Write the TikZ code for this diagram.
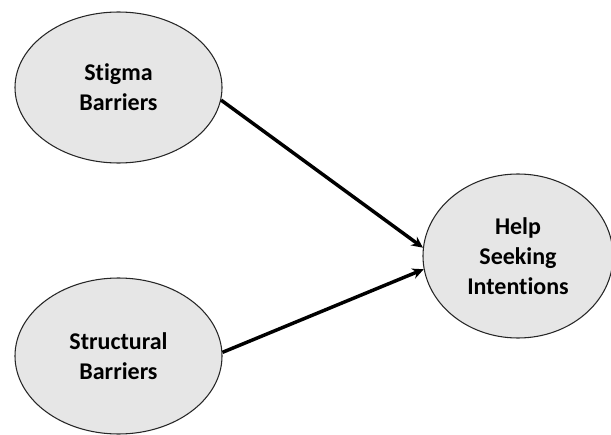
\documentclass[tikz,border=0pt]{standalone}
\usepackage{fontspec}
\setmainfont{Carlito}[RawFeature={-liga}]
\usetikzlibrary{shapes.geometric,arrows.meta}
\definecolor{bubblefill}{RGB}{230,230,230}
\tikzset{
  construct/.style={ellipse, draw=black!85, line width=0.8pt, fill=bubblefill, inner sep=0pt,
    align=center, font=\fontsize{18}{22.5}\selectfont\bfseries},
  path/.style={line width=2.6pt, -{Stealth[length=8.5pt,width=8pt]}}
}
\begin{document}
\begin{tikzpicture}[x=0.75pt,y=0.75pt,yscale=-1,xscale=1]
\useasboundingbox (0,0) rectangle (611,435);

%Shape: Ellipse [stigma]
\node [construct, minimum width=155.25pt, minimum height=113.25pt] (stigma) at (118.5,87.5) {Stigma\\Barriers};
%Shape: Ellipse [structural]
\node [construct, minimum width=155.25pt, minimum height=117pt] (structural) at (118.5,356) {Structural\\Barriers};
%Shape: Ellipse [help]
\node [construct, minimum width=142.5pt, minimum height=123pt] (help) at (518,256) {Help\\Seeking\\Intentions};

%Straight Lines
\draw [path] (stigma.-7.5) -- (help.175) ;
%Straight Lines
\draw [path] (structural.2) -- (help.188) ;

\end{tikzpicture}
\end{document}
